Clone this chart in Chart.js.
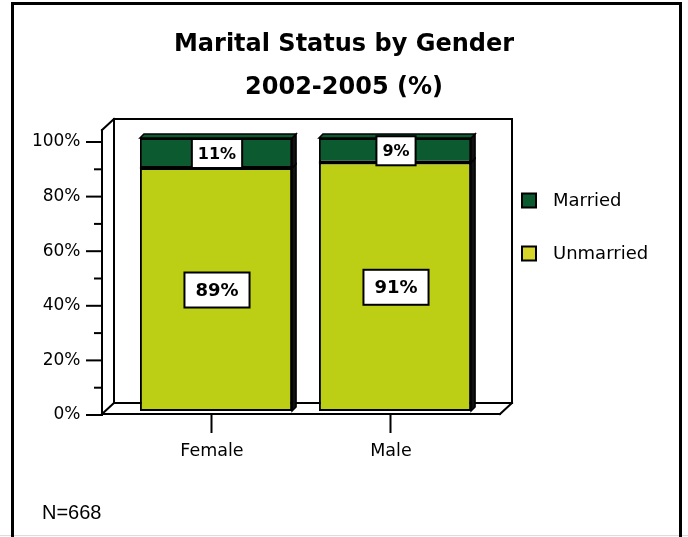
<!DOCTYPE html>
<html><head><meta charset="utf-8">
<script src="https://cdn.jsdelivr.net/npm/chart.js@4/dist/chart.umd.min.js"></script>
<style>html,body{margin:0;padding:0;background:#fff}#wrap{width:688px;height:537px;position:relative}</style>
</head><body><div id="wrap"><canvas id="c" width="688" height="537"></canvas></div>
<script>
const categories = ['Female', 'Male'];
const unmarried = [89, 91];
const married = [11, 9];
const seriesNames = ['Married', 'Unmarried'];
const tickStep = 20;
const titleLines = ['Marital Status by Gender', '2002-2005 (%)'];
const footnote = 'N=668';

const COL_MARRIED = '#0C5A2F';
const COL_UNMARRIED = '#BCCF15';
const LEG_UNMARRIED = '#D6D62A';
const FONT = 'DejaVu Sans';

const framePlugin = {
  id: 'frame3d',
  beforeDatasetsDraw(chart) {
    const ctx = chart.ctx, ca = chart.chartArea;
    const ys = chart.scales.y, xs = chart.scales.x;
    const yF0 = ys.getPixelForValue(0) + 3;
    const fx0 = ca.left - 24.5, fx1 = ca.right + 15.5;
    const dx = 12, dy = -11;
    const yTopF = ys.getPixelForValue(100) - 8;
    ctx.save();
    ctx.strokeStyle = '#000'; ctx.lineWidth = 2; ctx.lineCap = 'square';
    const line = (a, b, c, d) => { ctx.beginPath(); ctx.moveTo(a, b); ctx.lineTo(c, d); ctx.stroke(); };
    line(fx0, yF0, fx0, yTopF);
    line(fx0, yTopF, fx0 + dx, yTopF + dy);
    line(fx0 + dx, yTopF + dy, fx0 + dx, yF0 + dy);
    line(fx0 + dx, yTopF + dy, fx1 + dx, yTopF + dy);
    line(fx1 + dx, yTopF + dy, fx1 + dx, yF0 + dy);
    line(fx0 + dx, yF0 + dy, fx1 + dx, yF0 + dy);
    line(fx0, yF0, fx1, yF0);
    line(fx1, yF0, fx1 + dx, yF0 + dy);
    line(fx0, yF0, fx0 + dx, yF0 + dy);
    for (let v = 0; v <= 100; v += tickStep / 2) {
      const y = ys.getPixelForValue(v) + 4;
      const major = v % tickStep === 0;
      line(fx0 - (major ? 15 : 7), y, fx0, y);
    }
    categories.forEach((c, i) => {
      const x = xs.getPixelForValue(i) - 4.5;
      line(x, yF0, x, yF0 + 18);
    });
    ctx.restore();
  },
  afterDatasetsDraw(chart) {
    const ctx = chart.ctx;
    const n = chart.data.datasets.length;
    ctx.save();
    ctx.strokeStyle = '#000'; ctx.lineWidth = 1.5;
    chart.data.datasets.forEach((ds, di) => {
      const meta = chart.getDatasetMeta(di);
      meta.data.forEach(el => {
        const p = el.getProps(['x', 'y', 'base', 'width'], true);
        const l = p.x - p.width / 2, r = p.x + p.width / 2;
        ctx.fillStyle = '#111';
        ctx.lineWidth = 1.5;
        ctx.beginPath();
        ctx.moveTo(r, p.y); ctx.lineTo(r + 4, p.y - 4); ctx.lineTo(r + 4, p.base - 4); ctx.lineTo(r, p.base);
        ctx.closePath(); ctx.fill(); ctx.stroke();
        if (di === n - 1) {
          ctx.fillStyle = ds.backgroundColor;
          ctx.beginPath();
          ctx.moveTo(l, p.y); ctx.lineTo(l + 4, p.y - 4); ctx.lineTo(r + 4, p.y - 4); ctx.lineTo(r, p.y);
          ctx.closePath(); ctx.fill(); ctx.stroke();
        }
        if (di > 0) {
          ctx.lineWidth = 2.5;
          ctx.beginPath(); ctx.moveTo(l, p.base); ctx.lineTo(r, p.base); ctx.stroke();
        }
      });
    });
    chart.data.datasets.forEach((ds, di) => {
      const meta = chart.getDatasetMeta(di);
      const size = ds.labelSize, padX = ds.labelPadX, padY = ds.labelPadY;
      ctx.font = 'bold ' + size + 'px "' + FONT + '"';
      ctx.textAlign = 'center'; ctx.textBaseline = 'middle';
      meta.data.forEach((el, i) => {
        const p = el.getProps(['x', 'y', 'base'], true);
        const cx = p.x + 1, cy = (p.y + p.base) / 2 + 0.5;
        const txt = ds.data[i] + '%';
        const w = ctx.measureText(txt).width + padX * 2;
        const h = size + padY * 2;
        ctx.fillStyle = '#fff';
        ctx.fillRect(cx - w / 2, cy - h / 2, w, h);
        ctx.lineWidth = 2; ctx.strokeStyle = '#000';
        ctx.strokeRect(cx - w / 2, cy - h / 2, w, h);
        ctx.fillStyle = '#000';
        ctx.fillText(txt, cx, cy + 1);
      });
    });
    ctx.restore();
  },
  afterDraw(chart) {
    const ctx = chart.ctx;
    ctx.save();
    const legendItems = [
      { text: seriesNames[0], color: COL_MARRIED },
      { text: seriesNames[1], color: LEG_UNMARRIED }
    ];
    ctx.font = '18px "' + FONT + '"';
    ctx.textBaseline = 'middle'; ctx.textAlign = 'left';
    legendItems.forEach((it, i) => {
      const y = 200.5 + i * 53;
      ctx.fillStyle = it.color;
      ctx.fillRect(522, y - 7, 14, 14);
      ctx.lineWidth = 2; ctx.strokeStyle = '#000';
      ctx.strokeRect(522, y - 7, 14, 14);
      ctx.fillStyle = '#000';
      ctx.fillText(it.text, 553, y + 1);
    });
    ctx.font = '20px "Liberation Sans"';
    ctx.fillText(footnote, 42, 513);
    ctx.strokeStyle = '#ddd'; ctx.lineWidth = 1;
    ctx.beginPath(); ctx.moveTo(0, 535.5); ctx.lineTo(688, 535.5); ctx.stroke();
    ctx.strokeStyle = '#000'; ctx.lineWidth = 3;
    ctx.beginPath();
    ctx.moveTo(12.5, 545); ctx.lineTo(12.5, 3.5); ctx.lineTo(680.5, 3.5); ctx.lineTo(680.5, 545);
    ctx.stroke();
    ctx.restore();
  }
};

new Chart(document.getElementById('c'), {
  type: 'bar',
  data: {
    labels: categories,
    datasets: [
      { label: seriesNames[1], data: unmarried, backgroundColor: COL_UNMARRIED, borderColor: '#000', borderWidth: 2,
        borderSkipped: false, labelSize: 18, labelPadX: 11, labelPadY: 8.5 },
      { label: seriesNames[0], data: married, backgroundColor: COL_MARRIED, borderColor: '#000', borderWidth: 2,
        borderSkipped: false, labelSize: 16, labelPadX: 6, labelPadY: 6.5 }
    ]
  },
  options: {
    responsive: false, animation: false, devicePixelRatio: 1,
    datasets: { bar: { barPercentage: 0.85, categoryPercentage: 1 } },
    layout: { padding: { left: 0, right: 0, top: 0, bottom: 76 } },
    plugins: {
      legend: { display: false },
      tooltip: { enabled: false },
      title: {
        display: true, text: titleLines, color: '#000',
        font: { family: FONT, size: 24, weight: 'bold', lineHeight: 43 / 24 },
        padding: { top: 23.5, bottom: 28.5 }
      }
    },
    scales: {
      x: {
        stacked: true,
        grid: { display: false, drawTicks: false }, border: { display: false },
        ticks: { padding: 30, labelOffset: -4, color: '#000', font: { family: FONT, size: 17.5 } },
        afterFit(s) { s.height = 50; }
      },
      y: {
        stacked: true, min: 0, max: 100,
        grid: { display: false, drawTicks: false }, border: { display: false },
        ticks: { stepSize: tickStep, padding: 46, labelOffset: 4, color: '#000',
          font: { family: FONT, size: 17 }, callback: v => v + '%' },
        afterFit(s) { s.width = 126.5; }
      },
      yRight: {
        position: 'right', display: true, min: 0, max: 100,
        grid: { display: false, drawTicks: false }, border: { display: false },
        ticks: { display: false },
        afterFit(s) { s.width = 203.5; }
      }
    }
  },
  plugins: [framePlugin]
});
</script>
</body></html>
